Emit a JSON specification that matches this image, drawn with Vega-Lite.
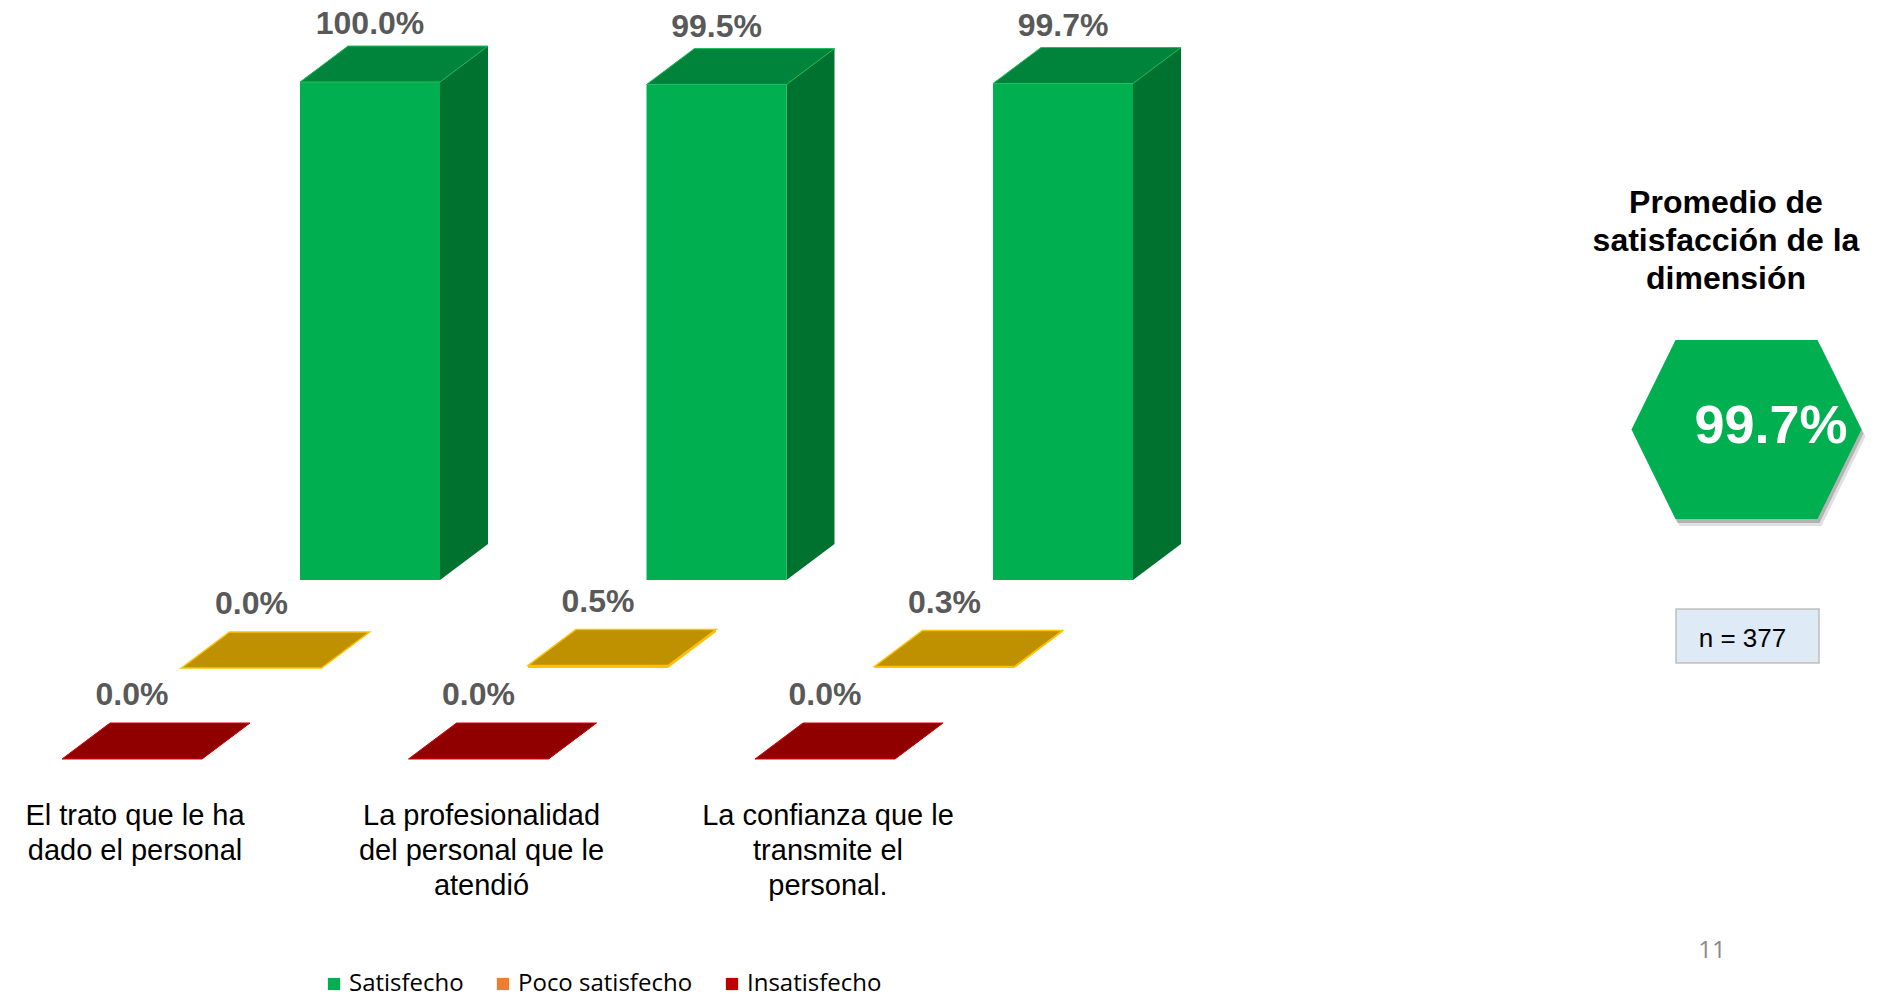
{
  "$schema": "https://vega.github.io/schema/vega-lite/v6.json",
  "width": 1880,
  "height": 1004,
  "autosize": {"type": "fit", "contains": "padding"},
  "padding": 0,
  "background": "white",
  "config": {"view": {"stroke": null}, "axis": {"disable": true}},
  "datasets": {
    "main": [
      {"cat": "El trato que le ha\ndado el personal", "serie": "Satisfecho", "value": 1.0},
      {"cat": "El trato que le ha\ndado el personal", "serie": "Poco satisfecho", "value": 0.0},
      {"cat": "El trato que le ha\ndado el personal", "serie": "Insatisfecho", "value": 0.0},
      {"cat": "La profesionalidad\ndel personal que le\natendió", "serie": "Satisfecho", "value": 0.995},
      {"cat": "La profesionalidad\ndel personal que le\natendió", "serie": "Poco satisfecho", "value": 0.005},
      {"cat": "La profesionalidad\ndel personal que le\natendió", "serie": "Insatisfecho", "value": 0.0},
      {"cat": "La confianza que le\ntransmite el\npersonal.", "serie": "Satisfecho", "value": 0.997},
      {"cat": "La confianza que le\ntransmite el\npersonal.", "serie": "Poco satisfecho", "value": 0.003},
      {"cat": "La confianza que le\ntransmite el\npersonal.", "serie": "Insatisfecho", "value": 0.0}
    ],
    "resumen": [
      {"cat": "Promedio", "titulo": "Promedio de\nsatisfacción de la\ndimensión", "value": 0.997, "muestra": "n = 377", "pagina": "11"}
    ]
  },
  "data": {"name": "main"},
  "encoding": {
    "x": {
      "field": "cat", "type": "nominal", "sort": null, "axis": null,
      "scale": {
        "domain": ["El trato que le ha\ndado el personal", "La profesionalidad\ndel personal que le\natendió", "La confianza que le\ntransmite el\npersonal.", " ", "Promedio"],
        "paddingInner": 1, "paddingOuter": 0.71284, "align": 0.74899
      }
    },
    "y": {
      "field": "value", "type": "quantitative", "axis": null,
      "scale": {"domain": [-0.8514, 1.1647], "nice": false, "zero": false}
    }
  },
  "layer": [
    {"transform": [{"filter": "datum.serie === 'Satisfecho'"}],
     "mark": {"type": "bar", "width": 48, "xOffset": 94, "yOffset": -36, "y2Offset": -36, "color": "#00722F"},
     "encoding": {"y2": {"datum": 0}}},
    {"transform": [{"filter": "datum.serie === 'Satisfecho'"}],
     "mark": {"type": "point", "shape": "M70,0L70,-36L118,-36Z", "size": 4, "filled": true, "fill": "#00722F", "opacity": 1, "strokeWidth": 0},
     "encoding": {"y": {"datum": 0}}},
    {"transform": [{"filter": "datum.serie === 'Satisfecho'"}],
     "mark": {"type": "bar", "width": 140},
     "encoding": {
       "y2": {"datum": 0},
       "color": {
         "field": "serie", "type": "nominal",
         "scale": {"domain": ["Satisfecho", "Poco satisfecho", "Insatisfecho"], "range": ["#00B050", "#ED7D31", "#C00000"]},
         "legend": {"orient": "none", "legendX": 322, "legendY": 972, "direction": "horizontal", "title": null,
                    "symbolType": "square", "symbolSize": 150, "symbolStrokeWidth": 0, "symbolOpacity": 1,
                    "labelFont": "Open Sans", "labelFontSize": 24, "labelColor": "#000000", "labelLimit": 0,
                    "columnPadding": 27, "labelOffset": 3}
       }
     }},
    {"transform": [{"filter": "datum.serie === 'Satisfecho'"}],
     "mark": {"type": "point", "shape": "M-70,0L70,0L118,-36L-22,-36Z", "size": 4, "filled": true, "fill": "#00843C", "stroke": "#1DBF5E", "strokeWidth": 1, "opacity": 1}},
    {"transform": [{"filter": "datum.serie === 'Satisfecho'"}],
     "mark": {"type": "text", "yOffset": -58, "font": "Liberation Sans", "fontWeight": "bold", "fontSize": 32, "fill": "#595959", "align": "center", "baseline": "middle"},
     "encoding": {"text": {"field": "value", "type": "quantitative", "format": ".1%"}}},

    {"transform": [{"filter": "datum.serie === 'Poco satisfecho'"}],
     "mark": {"type": "bar", "width": 48, "xOffset": -24.5, "yOffset": 52, "y2Offset": 52, "color": "#FFC000"},
     "encoding": {"y2": {"datum": 0}}},
    {"transform": [{"filter": "datum.serie === 'Poco satisfecho'"}],
     "mark": {"type": "point", "shape": "M70,0L70,-36L118,-36Z", "size": 4, "filled": true, "fill": "#FFC000", "opacity": 1, "strokeWidth": 0, "xOffset": -118.5, "yOffset": 88},
     "encoding": {"y": {"datum": 0}}},
    {"transform": [{"filter": "datum.serie === 'Poco satisfecho'"}],
     "mark": {"type": "bar", "width": 140, "xOffset": -118.5, "yOffset": 88, "y2Offset": 88, "color": "#FFC000"},
     "encoding": {"y2": {"datum": 0}}},
    {"transform": [{"filter": "datum.serie === 'Poco satisfecho'"}],
     "mark": {"type": "point", "shape": "M-70,0L70,0L118,-36L-22,-36Z", "size": 4, "filled": true, "fill": "#BF9000", "stroke": "#FFC000", "strokeWidth": 1.5, "opacity": 1, "xOffset": -118.5, "yOffset": 88}},
    {"transform": [{"filter": "datum.serie === 'Poco satisfecho'"}],
     "mark": {"type": "text", "xOffset": -118.5, "yOffset": 24, "font": "Liberation Sans", "fontWeight": "bold", "fontSize": 32, "fill": "#595959", "align": "center", "baseline": "middle"},
     "encoding": {"text": {"field": "value", "type": "quantitative", "format": ".1%"}}},

    {"transform": [{"filter": "datum.serie === 'Insatisfecho'"}],
     "mark": {"type": "bar", "width": 48, "xOffset": -144, "yOffset": 143, "y2Offset": 143, "color": "#C00000"},
     "encoding": {"y2": {"datum": 0}}},
    {"transform": [{"filter": "datum.serie === 'Insatisfecho'"}],
     "mark": {"type": "point", "shape": "M70,0L70,-36L118,-36Z", "size": 4, "filled": true, "fill": "#C00000", "opacity": 1, "strokeWidth": 0, "xOffset": -238, "yOffset": 179},
     "encoding": {"y": {"datum": 0}}},
    {"transform": [{"filter": "datum.serie === 'Insatisfecho'"}],
     "mark": {"type": "bar", "width": 140, "xOffset": -238, "yOffset": 179, "y2Offset": 179, "color": "#C00000"},
     "encoding": {"y2": {"datum": 0}}},
    {"transform": [{"filter": "datum.serie === 'Insatisfecho'"}],
     "mark": {"type": "point", "shape": "M-70,0L70,0L118,-36L-22,-36Z", "size": 4, "filled": true, "fill": "#900000", "stroke": "#D80000", "strokeWidth": 1, "opacity": 1, "xOffset": -238, "yOffset": 179}},
    {"transform": [{"filter": "datum.serie === 'Insatisfecho'"}],
     "mark": {"type": "text", "xOffset": -238, "yOffset": 115, "font": "Liberation Sans", "fontWeight": "bold", "fontSize": 32, "fill": "#595959", "align": "center", "baseline": "middle"},
     "encoding": {"text": {"field": "value", "type": "quantitative", "format": ".1%"}}},

    {"transform": [{"filter": "datum.serie === 'Insatisfecho'"}],
     "mark": {"type": "text", "xOffset": -235, "font": "Liberation Sans", "fontSize": 29, "fill": "#000000", "align": "center", "baseline": "alphabetic", "lineBreak": "\n", "lineHeight": 35},
     "encoding": {"y": {"datum": -0.492}, "text": {"field": "cat", "type": "nominal"}}},

    {"data": {"name": "resumen"},
     "mark": {"type": "text", "xOffset": -30, "font": "Liberation Sans", "fontWeight": "bold", "fontSize": 32, "fill": "#000000", "align": "center", "baseline": "alphabetic", "lineBreak": "\n", "lineHeight": 38},
     "encoding": {"y": {"datum": 0.7369}, "text": {"field": "titulo", "type": "nominal"}}},
    {"data": {"name": "resumen"},
     "mark": {"type": "point", "shape": "M-71,-89.5L71,-89.5L115,0L71,89.5L-71,89.5L-115,0Z", "size": 4, "filled": true, "fill": "#000000", "opacity": 0.12, "strokeWidth": 0, "xOffset": -5.5, "yOffset": 7},
     "encoding": {"y": {"datum": 0.3022}}},
    {"data": {"name": "resumen"},
     "mark": {"type": "point", "shape": "M-71,-89.5L71,-89.5L115,0L71,89.5L-71,89.5L-115,0Z", "size": 4, "filled": true, "fill": "#000000", "opacity": 0.2, "strokeWidth": 0, "xOffset": -7.5, "yOffset": 4},
     "encoding": {"y": {"datum": 0.3022}}},
    {"data": {"name": "resumen"},
     "mark": {"type": "point", "shape": "M-71,-89.5L71,-89.5L115,0L71,89.5L-71,89.5L-115,0Z", "size": 4, "filled": true, "fill": "#00B050", "opacity": 1, "strokeWidth": 0, "xOffset": -9.5},
     "encoding": {"y": {"datum": 0.3022}}},
    {"data": {"name": "resumen"},
     "mark": {"type": "text", "xOffset": 15, "font": "Liberation Sans", "fontWeight": "bold", "fontSize": 54, "fill": "#FFFFFF", "align": "center", "baseline": "middle"},
     "encoding": {"y": {"datum": 0.3072}, "text": {"field": "value", "type": "quantitative", "format": ".1%"}}},
    {"data": {"name": "resumen"},
     "mark": {"type": "point", "shape": "M-71.5,-27L71.5,-27L71.5,27L-71.5,27Z", "size": 4, "filled": true, "fill": "#DEEBF7", "stroke": "#BFBFBF", "strokeWidth": 1.5, "opacity": 1, "xOffset": -8.5},
     "encoding": {"y": {"datum": -0.1124}}},
    {"data": {"name": "resumen"},
     "mark": {"type": "text", "xOffset": -13.5, "font": "Liberation Sans", "fontSize": 26, "fill": "#000000", "align": "center", "baseline": "alphabetic"},
     "encoding": {"y": {"datum": -0.1345}, "text": {"field": "muestra", "type": "nominal"}}},
    {"data": {"name": "resumen"},
     "mark": {"type": "text", "xOffset": -44, "font": "Open Sans", "fontSize": 24, "fill": "#898989", "align": "center", "baseline": "alphabetic"},
     "encoding": {"y": {"datum": -0.759}, "text": {"field": "pagina", "type": "nominal"}}}
  ]
}
